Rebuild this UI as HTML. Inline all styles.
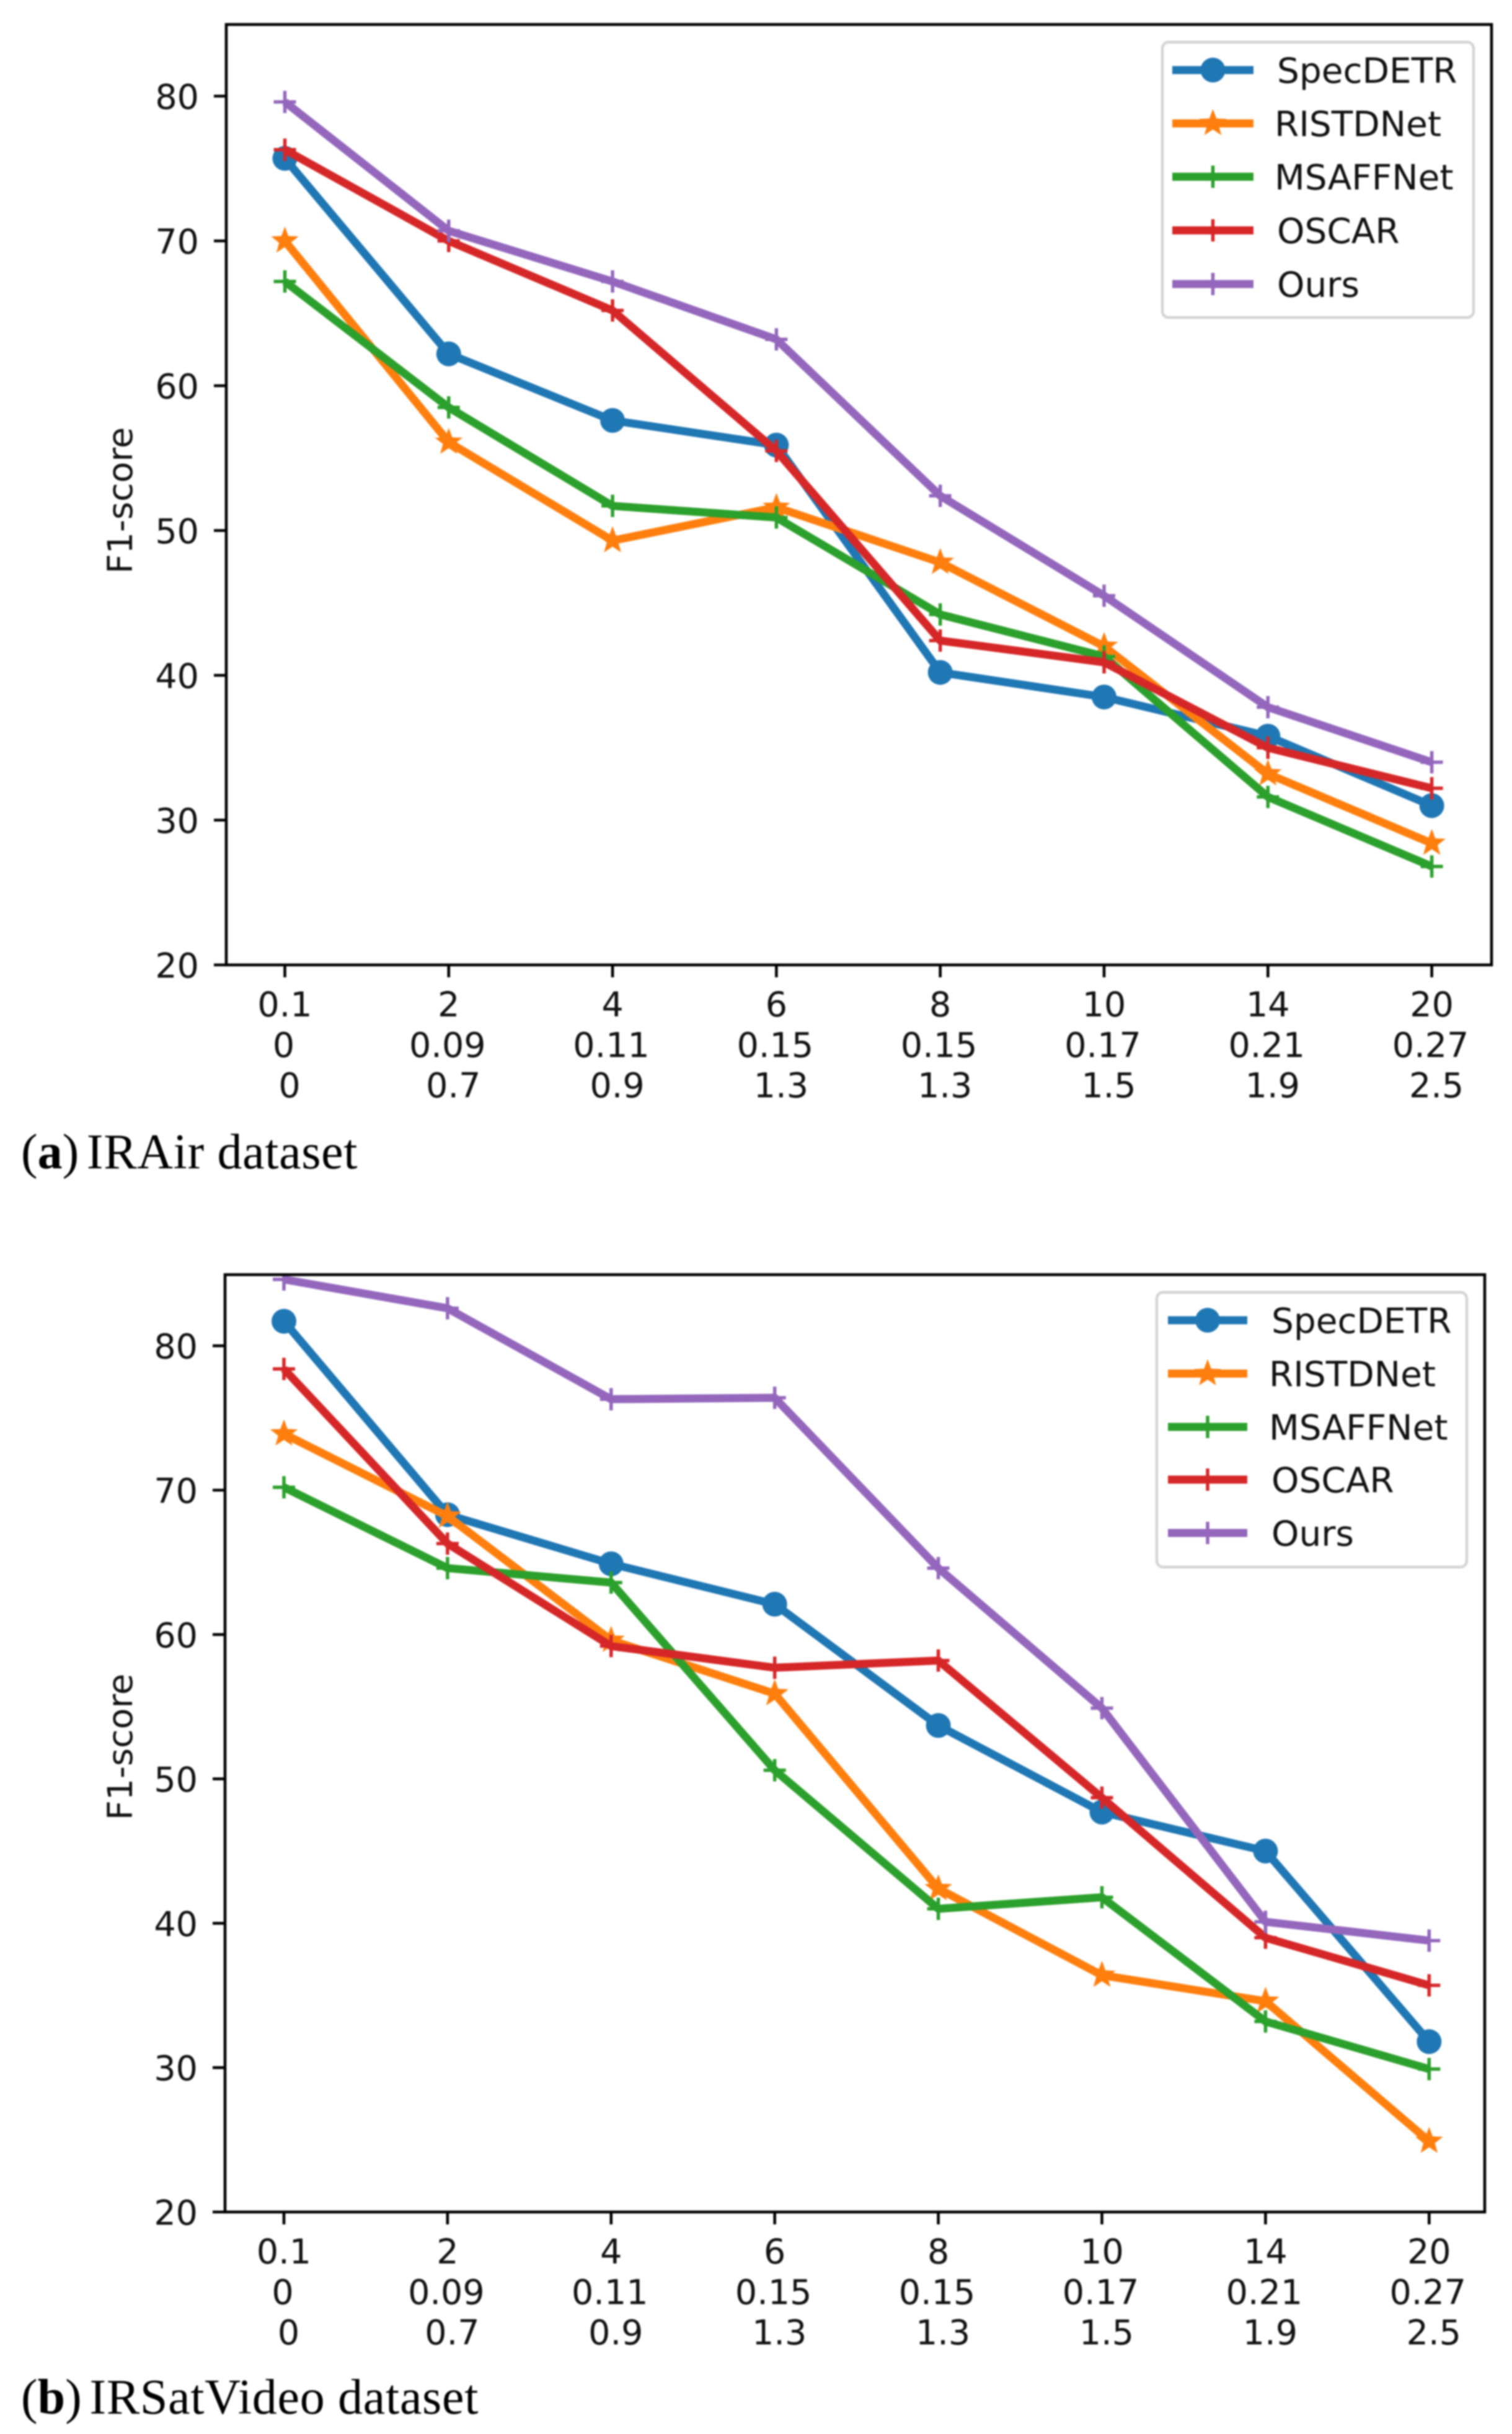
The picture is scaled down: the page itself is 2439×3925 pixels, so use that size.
<!DOCTYPE html>
<html lang="en">
<head>
<meta charset="utf-8">
<title>F1-score charts for IRAir and IRSatVideo datasets</title>
<style>
html,body{margin:0;padding:0;background:#fff;}
body{width:2439px;height:3925px;overflow:hidden;}
svg{display:block;filter:blur(1.2px);}
.mpl{font-family:"DejaVu Sans",sans-serif;fill:#111;}
.cap{font-family:"Liberation Serif",serif;font-size:80px;fill:#000;}
</style>
</head>
<body>
<svg id="figure" xmlns="http://www.w3.org/2000/svg" width="2439" height="3925" viewBox="0 0 2439 3925">
  <rect x="0" y="0" width="2439" height="3925" fill="#ffffff"/>
  <g id="panel-a"></g>
  <g id="panel-b"></g>
  <text class="cap" x="34" y="1884">(<tspan font-weight="bold">a</tspan>)<tspan dx="-8" letter-spacing="0.65"> IRAir dataset</tspan></text>
  <text class="cap" x="34" y="3892">(<tspan font-weight="bold">b</tspan>)<tspan dx="-8" letter-spacing="0.7"> IRSatVideo dataset</tspan></text>
</svg>
<script>
// ---- chart data ----
const xLabelsLine1 = ["0.1", "2", "4", "6", "8", "10", "14", "20"];
const xLabelsLine2 = ["0", "0.09", "0.11", "0.15", "0.15", "0.17", "0.21", "0.27"];
const xLabelsLine3 = ["0", "0.7", "0.9", "1.3", "1.3", "1.5", "1.9", "2.5"];
const yTickValues = [20, 30, 40, 50, 60, 70, 80];
const seriesNames = ["SpecDETR", "RISTDNet", "MSAFFNet", "OSCAR", "Ours"];
const yAxisTitle = "F1-score";

const irairSpecDETR = [75.7, 62.2, 57.6, 55.9, 40.2, 38.5, 35.8, 31.0];
const irairRISTDNet = [70.0, 56.1, 49.3, 51.6, 47.8, 42.0, 33.2, 28.4];
const irairMSAFFNet = [67.2, 58.5, 51.7, 50.9, 44.2, 41.3, 31.6, 26.8];
const irairOSCAR = [76.3, 70.0, 65.2, 55.5, 42.4, 40.9, 35.0, 32.2];
const irairOurs = [79.6, 70.7, 67.2, 63.2, 52.4, 45.5, 37.8, 34.0];

const irsatSpecDETR = [81.7, 68.3, 64.9, 62.1, 53.7, 47.7, 45.0, 31.8];
const irsatRISTDNet = [73.9, 68.2, 59.6, 55.9, 42.4, 36.4, 34.6, 24.9];
const irsatMSAFFNet = [70.2, 64.6, 63.6, 50.6, 41.0, 41.8, 33.2, 29.9];
const irsatOSCAR = [78.4, 66.3, 59.2, 57.7, 58.2, 48.7, 39.0, 35.7];
const irsatOurs = [84.6, 82.6, 76.3, 76.4, 64.6, 54.9, 40.1, 38.8];

// ---- styling and layout ----
const seriesColors = ["#1f77b4", "#ff7f0e", "#2ca02c", "#d62728", "#9467bd"];
const seriesMarkers = ["circle", "star", "plus", "plus", "plus"];
const xLabelRows = [xLabelsLine1, xLabelsLine2, xLabelsLine3];
const xLabelBaseline = [83, 148.5, 213.5];
const xLabelNudge = [0, -2, 7.5];
const NS = "http://www.w3.org/2000/svg";
const LINE_W = 13;
const SPINE_W = 4.6;
const TICK_LEN = 20;
const FONT_SIZE = 55.5;

const panelA = {
  root: "panel-a", key: "a",
  data: [irairSpecDETR, irairRISTDNet, irairMSAFFNet, irairOSCAR, irairOurs],
  left: 365, right: 2406, top: 39.5, bottom: 1556,
  x0: 459.5, xStep: 264.3, y20: 1556, yPerUnit: 23.35,
  titleX: 213, titleY: 807,
  legend: { x: 1875, y: 68, w: 502, h: 444, rowY: [113, 199, 285, 371.5, 458], hx0: 1891, hx1: 2022, textX: [2060, 2056, 2056, 2060, 2060] }
};
const panelB = {
  root: "panel-b", key: "b",
  data: [irsatSpecDETR, irsatRISTDNet, irsatMSAFFNet, irsatOSCAR, irsatOurs],
  left: 363, right: 2395, top: 2055.5, bottom: 3567,
  x0: 458, xStep: 263.9, y20: 3567, yPerUnit: 23.28,
  titleX: 213, titleY: 2817,
  legend: { x: 1866, y: 2084, w: 500, h: 443, rowY: [2129, 2215, 2301, 2386, 2472], hx0: 1884, hx1: 2012, textX: [2051, 2047, 2047, 2051, 2051] }
};

function mk(tag, attrs, parent) {
  const el = document.createElementNS(NS, tag);
  for (const k in attrs) el.setAttribute(k, attrs[k]);
  parent.appendChild(el);
  return el;
}

function starPoints(cx, cy, r) {
  const pts = [];
  for (let i = 0; i < 10; i++) {
    const rad = i % 2 === 0 ? r : r * 0.42;
    const a = -Math.PI / 2 + i * Math.PI / 5;
    pts.push((cx + rad * Math.cos(a)).toFixed(1) + "," + (cy + rad * Math.sin(a)).toFixed(1));
  }
  return pts.join(" ");
}

function drawMarker(parent, kind, cx, cy, color, label) {
  if (kind === "circle") {
    const c = mk("circle", { cx: cx, cy: cy, r: 20, fill: color }, parent);
    
    
  } else if (kind === "star") {
    const s = mk("polygon", { points: starPoints(cx, cy, 19), fill: color, stroke: color, "stroke-width": 3 }, parent);
    
    
  } else {
    const d = "M" + (cx - 18) + " " + cy + "H" + (cx + 18) + "M" + cx + " " + (cy - 18) + "V" + (cy + 18);
    const p = mk("path", { d: d, fill: "none", stroke: color, "stroke-width": 5.5 }, parent);
    
    
  }
}

function drawPanel(P) {
  const g = document.getElementById(P.root);
  const xScale = function (i) { return P.x0 + P.xStep * i; };
  const yScale = function (v) { return P.y20 - (v - 20) * P.yPerUnit; };

  const clipId = "clip-" + P.key;
  const defs = mk("defs", {}, g);
  const clip = mk("clipPath", { id: clipId }, defs);
  mk("rect", { x: P.left, y: P.top, width: P.right - P.left, height: P.bottom - P.top }, clip);

  // series lines and markers
  const plot = mk("g", { "clip-path": "url(#" + clipId + ")" }, g);
  
  
  P.data.forEach(function (values, s) {
    const sg = mk("g", {}, plot);
    
    
    const pts = values.map(function (v, i) { return xScale(i).toFixed(1) + "," + yScale(v).toFixed(1); }).join(" ");
    const line = mk("polyline", { points: pts, fill: "none", stroke: seriesColors[s], "stroke-width": LINE_W, "stroke-linejoin": "round" }, sg);
    
    
    values.forEach(function (v, i) {
      drawMarker(sg, seriesMarkers[s], xScale(i), yScale(v), seriesColors[s], "point-" + seriesNames[s].toLowerCase() + "-" + i);
    });
  });

  // axes frame
  const frame = mk("rect", { x: P.left, y: P.top, width: P.right - P.left, height: P.bottom - P.top, fill: "none", stroke: "#000", "stroke-width": SPINE_W }, g);
  
  

  // y axis
  yTickValues.forEach(function (v) {
    const y = yScale(v);
    const t = mk("line", { x1: P.left - TICK_LEN, x2: P.left, y1: y, y2: y, stroke: "#000", "stroke-width": SPINE_W }, g);
    
    
    const l = mk("text", { x: P.left - 44, y: y + 20.5, "text-anchor": "end", "font-size": FONT_SIZE, class: "mpl" }, g);
    
    
    l.textContent = String(v);
  });

  // y title
  const title = mk("text", { x: P.titleX, y: P.titleY, "text-anchor": "middle", "font-size": FONT_SIZE, class: "mpl", transform: "rotate(-90 " + P.titleX + " " + P.titleY + ")" }, g);
  
  
  title.textContent = yAxisTitle;

  // x axis
  xLabelsLine1.forEach(function (lab, i) {
    const x = xScale(i);
    const t = mk("line", { x1: x, x2: x, y1: P.bottom, y2: P.bottom + TICK_LEN, stroke: "#000", "stroke-width": SPINE_W }, g);
    
    
    xLabelRows.forEach(function (row, r) {
      const l = mk("text", { x: x + xLabelNudge[r], y: P.bottom + xLabelBaseline[r], "text-anchor": "middle", "font-size": FONT_SIZE, class: "mpl" }, g);
      
      
      l.textContent = row[i];
    });
  });

  // legend
  const L = P.legend;
  const lg = mk("g", {}, g);
  
  
  const box = mk("rect", { x: L.x, y: L.y, width: L.w, height: L.h, rx: 10, ry: 10, fill: "#fff", stroke: "#d4d4d4", "stroke-width": 4.4 }, lg);
  
  
  seriesNames.forEach(function (name, s) {
    const y = L.rowY[s];
    const e = mk("g", {}, lg);
    
    
    const h = mk("line", { x1: L.hx0, x2: L.hx1, y1: y, y2: y, stroke: seriesColors[s], "stroke-width": LINE_W }, e);
    
    
    drawMarker(e, seriesMarkers[s], (L.hx0 + L.hx1) / 2, y, seriesColors[s], "legend-marker-" + name.toLowerCase());
    const t = mk("text", { x: L.textX[s], y: y + 20.5, "font-size": 56.5, class: "mpl" }, e);
    
    
    t.textContent = name;
  });
}

drawPanel(panelA);
drawPanel(panelB);
</script>
</body>
</html>
